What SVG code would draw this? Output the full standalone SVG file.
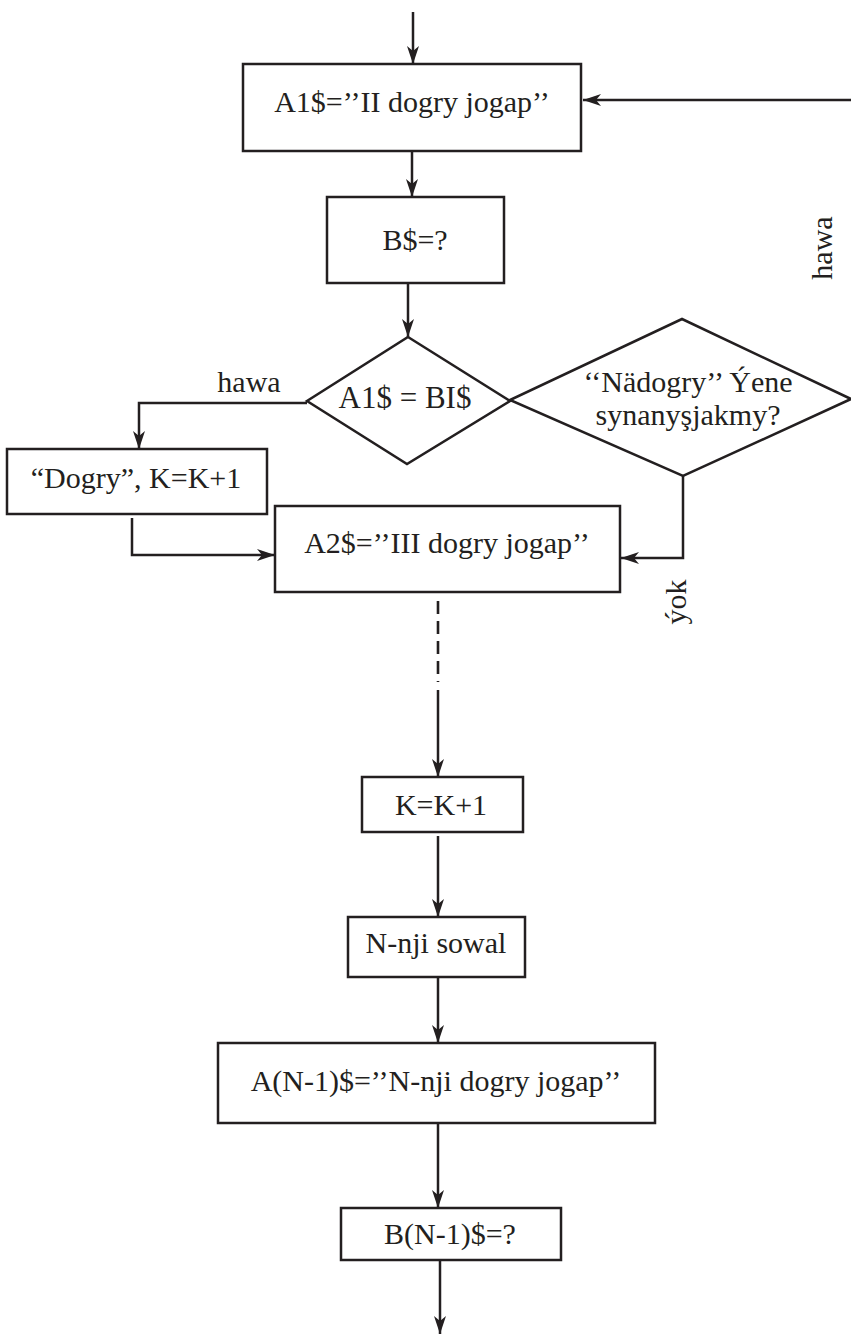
<svg xmlns="http://www.w3.org/2000/svg" width="851" height="1337" viewBox="0 0 851 1337">
<style>
.box{fill:#fff;stroke:#231f20;stroke-width:2.5}
.arr{fill:none;stroke:#231f20;stroke-width:2.5;marker-end:url(#ah)}
.dash{fill:none;stroke:#231f20;stroke-width:2.6;stroke-dasharray:13 7}
</style>
<defs>
<marker id="ah" viewBox="0 0 18 12" refX="18" refY="6" markerWidth="18" markerHeight="12" markerUnits="userSpaceOnUse" orient="auto">
<path d="M0,0 L18,6 L0,12 L5,6 Z" fill="#231f20"/>
</marker>
</defs>
<rect width="851" height="1337" fill="#fff"/>
<g id="connectors">
<line class="arr" x1="413" y1="12" x2="413" y2="64"/>
<line class="arr" x1="851" y1="100" x2="583" y2="100"/>
<line class="arr" x1="412" y1="151" x2="412" y2="197"/>
<line class="arr" x1="408" y1="283" x2="408" y2="337"/>
<polyline class="arr" points="307,403 139,403 139,449"/>
<polyline class="arr" points="132,518 132,555 275,555"/>
<polyline class="arr" points="683,476 683,558 621,558"/>
<line class="dash" x1="438" y1="601" x2="438" y2="682"/>
<line class="arr" x1="438" y1="690" x2="438" y2="777"/>
<line class="arr" x1="438" y1="836" x2="438" y2="917"/>
<line class="arr" x1="438" y1="977" x2="438" y2="1043"/>
<line class="arr" x1="438" y1="1123" x2="438" y2="1208"/>
<line class="arr" x1="440" y1="1260" x2="440" y2="1334"/>
</g>
<g id="labels" font-family="Liberation Serif" font-size="30" fill="#231f20" text-anchor="middle">
<text x="249" y="392" font-family="Liberation Serif">hawa</text>
<text transform="translate(832,248) rotate(-90)" font-family="Liberation Serif">hawa</text>
<text transform="translate(686,602) rotate(-90)" font-family="Liberation Serif">ýok</text>
</g>
<g id="n_a1" font-family="Liberation Serif" font-size="30" fill="#231f20" text-anchor="middle">
<rect class="box" x="243" y="64" width="338" height="87"/>
<text x="412" y="112" font-family="Liberation Serif">A1$=’’II dogry jogap’’</text>
</g>
<g id="n_b" font-family="Liberation Serif" font-size="30" fill="#231f20" text-anchor="middle">
<rect class="box" x="327" y="197" width="177" height="86"/>
<text x="415" y="250" font-family="Liberation Serif">B$=?</text>
</g>
<g id="n_d1" font-family="Liberation Serif" font-size="31" fill="#231f20" text-anchor="middle">
<polygon class="box" points="408,337 510,401 407,464 307,401"/>
<text x="405" y="408" font-family="Liberation Serif">A1$ = BI$</text>
</g>
<g id="n_d2" font-family="Liberation Serif" font-size="30" fill="#231f20" text-anchor="middle">
<polygon class="box" points="682,319 851,399 683,476 510,400"/>
<text x="688" y="392" font-family="Liberation Serif">‘‘Nädogry’’ Ýene</text>
<text x="688" y="425" font-family="Liberation Serif">synanyşjakmy?</text>
</g>
<g id="n_dogry" font-family="Liberation Serif" font-size="30" fill="#231f20" text-anchor="middle">
<rect class="box" x="7" y="449" width="260" height="65"/>
<text x="136" y="488" font-family="Liberation Serif">“Dogry”, K=K+1</text>
</g>
<g id="n_a2" font-family="Liberation Serif" font-size="30" fill="#231f20" text-anchor="middle">
<rect class="box" x="275" y="506" width="345" height="86"/>
<text x="447" y="553" font-family="Liberation Serif">A2$=’’III dogry jogap’’</text>
</g>
<g id="n_k" font-family="Liberation Serif" font-size="30" fill="#231f20" text-anchor="middle">
<rect class="box" x="362" y="777" width="161" height="55"/>
<text x="441" y="815" font-family="Liberation Serif">K=K+1</text>
</g>
<g id="n_nnji" font-family="Liberation Serif" font-size="30" fill="#231f20" text-anchor="middle">
<rect class="box" x="348" y="917" width="177" height="60"/>
<text x="436" y="953" font-family="Liberation Serif">N-nji sowal</text>
</g>
<g id="n_an1" font-family="Liberation Serif" font-size="30" fill="#231f20" text-anchor="middle">
<rect class="box" x="218" y="1043" width="437" height="80"/>
<text x="436" y="1091" font-family="Liberation Serif">A(N-1)$=’’N-nji dogry jogap’’</text>
</g>
<g id="n_bn1" font-family="Liberation Serif" font-size="30" fill="#231f20" text-anchor="middle">
<rect class="box" x="341" y="1208" width="220" height="52"/>
<text x="450" y="1244" font-family="Liberation Serif">B(N-1)$=?</text>
</g>
</svg>
